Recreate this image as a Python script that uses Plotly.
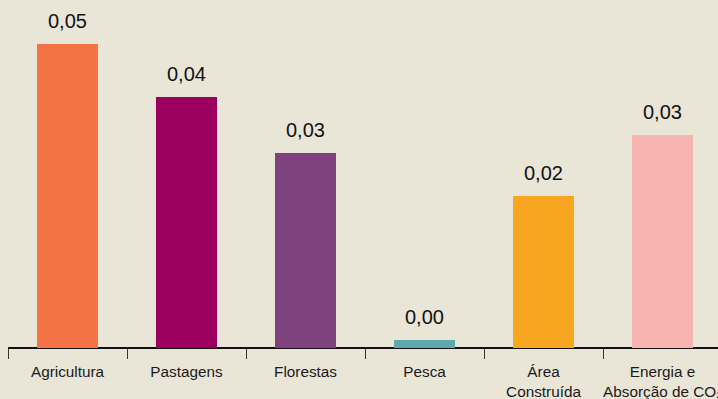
import plotly.graph_objects as go

categories = ["Agricultura", "Pastagens", "Florestas", "Pesca",
              "Área<br>Construída", "Energia e<br>Absorção de CO₂"]
values = [0.0471, 0.0389, 0.0302, 0.0012, 0.0236, 0.0330]
colors = ["#f47244", "#9b005f", "#80427f", "#5fa9ae", "#f8a61f", "#f8b4b1"]

bg = "#e9e6d8"
font_family = "Liberation Sans, Arial, sans-serif"

fig = go.Figure(
    go.Bar(
        x=categories,
        y=values,
        marker=dict(color=colors, line=dict(width=0)),
        width=0.505,
        hoverinfo="skip",
    )
)

# value labels above each bar, formatted with a decimal comma
for cat, val in zip(categories, values):
    fig.add_annotation(
        x=cat,
        y=val,
        text=f"{val:.2f}".replace(".", ","),
        showarrow=False,
        yanchor="bottom",
        yshift=10,
        font=dict(family=font_family, size=20, color="#111111"),
    )

fig.update_layout(
    width=718,
    height=399,
    margin=dict(l=8, r=0, t=0, b=51, autoexpand=False),
    paper_bgcolor=bg,
    plot_bgcolor=bg,
    showlegend=False,
    bargap=0,
    font=dict(family=font_family, size=15.3, color="#1a1a1a"),
)

fig.update_xaxes(
    range=[-0.5, 5.466],
    showgrid=False,
    showline=False,
    ticks="outside",
    tickson="boundaries",
    ticklen=10,
    tickwidth=1,
    tickcolor="#333333",
    tickangle=0,
    ticklabelstandoff=13,
    automargin=False,
    zeroline=False,
)

fig.update_yaxes(
    range=[0, 0.0539],
    showticklabels=False,
    showgrid=False,
    zeroline=True,
    zerolinecolor="#111111",
    zerolinewidth=2,
    showline=False,
    ticks="",
    automargin=False,
)

fig.write_html("out.html")
